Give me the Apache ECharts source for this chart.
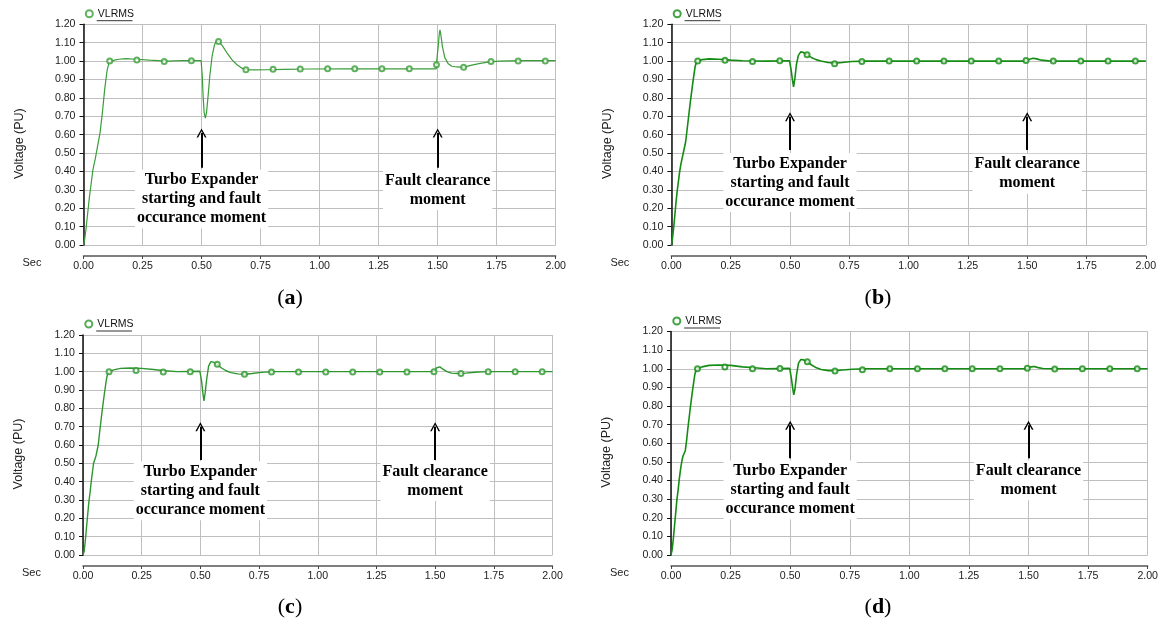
<!DOCTYPE html>
<html><head><meta charset="utf-8">
<script src="https://cdn.jsdelivr.net/npm/echarts@6/dist/echarts.min.js"></script>
<style>html,body{margin:0;padding:0;background:#fff}#c{width:1161px;height:622px}</style>
</head><body><div id="c"></div>
<script>
// ---------------- DATA ----------------
const seriesName = 'VLRMS';
const yAxisName = 'Voltage (PU)';
const xAxisName = 'Sec';
const panelLabels = ['a', 'b', 'c', 'd'];
const noteStart = 'Turbo Expander\nstarting and fault\noccurance moment';
const noteClear = 'Fault clearance\nmoment';
const eventTimes = [0.5, 1.5];

// Panel (a)
const tA = [0,0.005,0.01,0.015,0.02,0.025,0.03,0.035,0.04,0.05,0.06,0.07,0.08,0.09,0.1,0.108,0.115,0.13,0.15,0.18,0.22,0.28,0.35,0.42,0.498,
  0.5,0.503,0.507,0.511,0.516,0.521,0.527,0.535,0.545,0.555,0.565,0.575,0.59,0.61,0.63,0.65,0.67,0.69,0.72,0.78,0.85,0.95,1.1,1.3,1.494,
  1.496,1.503,1.507,1.51,1.514,1.52,1.53,1.545,1.56,1.58,1.61,1.64,1.68,1.72,1.76,1.85,2.0];
const vA = [0,0.03,0.08,0.14,0.2,0.26,0.31,0.36,0.41,0.47,0.54,0.61,0.72,0.85,0.95,0.99,1.0,1.005,1.01,1.013,1.01,1.005,1.0,1.002,1.003,
  1.0,0.92,0.8,0.72,0.69,0.72,0.8,0.92,1.03,1.09,1.11,1.105,1.08,1.04,1.005,0.98,0.962,0.953,0.952,0.953,0.955,0.957,0.958,0.958,0.958,
  1.0,1.09,1.15,1.17,1.14,1.08,1.02,0.985,0.972,0.968,0.966,0.977,0.988,0.996,1.0,1.002,1.002];

// Panel (b)
const tB = [0,0.005,0.01,0.015,0.02,0.025,0.03,0.035,0.04,0.05,0.06,0.07,0.08,0.09,0.1,0.106,0.112,0.13,0.16,0.2,0.25,0.3,0.4,0.498,
  0.5,0.505,0.51,0.515,0.52,0.527,0.535,0.545,0.555,0.57,0.59,0.61,0.63,0.66,0.69,0.72,0.76,0.82,1.0,1.494,
  1.5,1.51,1.525,1.54,1.56,1.59,1.65,2.0];
const vB = [0,0.04,0.1,0.17,0.24,0.3,0.35,0.4,0.44,0.5,0.56,0.67,0.78,0.88,0.97,0.995,1.0,1.008,1.012,1.01,1.005,1.002,1.0,1.002,
  1.0,0.95,0.9,0.86,0.9,0.98,1.03,1.05,1.048,1.035,1.02,1.008,1.0,0.992,0.988,0.992,0.998,1.0,1.0,1.0,
  1.003,1.01,1.015,1.012,1.005,1.001,1.0,1.0];

// Panel (c)
const tC = [0,0.005,0.01,0.015,0.02,0.025,0.03,0.035,0.04,0.045,0.05,0.055,0.06,0.065,0.07,0.08,0.09,0.1,0.106,0.112,0.13,0.16,0.2,0.25,0.3,0.35,0.4,0.498,
  0.5,0.505,0.51,0.515,0.52,0.527,0.535,0.545,0.555,0.57,0.59,0.61,0.63,0.66,0.69,0.72,0.76,0.82,1.0,1.498,
  1.5,1.505,1.512,1.52,1.535,1.55,1.57,1.6,1.63,1.67,1.72,2.0];
const vC = [0,0.02,0.08,0.15,0.22,0.29,0.34,0.4,0.45,0.5,0.52,0.54,0.55,0.6,0.66,0.77,0.87,0.96,0.995,1.0,1.01,1.018,1.02,1.018,1.012,1.005,1.0,1.002,
  1.0,0.95,0.89,0.84,0.88,0.96,1.03,1.055,1.052,1.04,1.02,1.005,0.995,0.988,0.986,0.99,0.996,1.0,1.0,1.0,
  1.0,1.02,1.03,1.026,1.012,1.0,0.992,0.99,0.992,0.997,1.0,1.0];

// Panel (d)
const tD = [0,0.005,0.01,0.015,0.02,0.025,0.03,0.035,0.04,0.045,0.05,0.055,0.06,0.065,0.07,0.08,0.09,0.1,0.106,0.112,0.13,0.16,0.2,0.25,0.3,0.35,0.4,0.498,
  0.5,0.505,0.51,0.515,0.52,0.527,0.535,0.545,0.555,0.57,0.59,0.61,0.63,0.66,0.69,0.72,0.76,0.82,1.0,1.498,
  1.5,1.51,1.525,1.54,1.56,1.6,2.0];
const vD = [0,0.03,0.09,0.16,0.23,0.3,0.35,0.41,0.46,0.5,0.53,0.54,0.56,0.61,0.67,0.78,0.88,0.97,0.995,1.0,1.01,1.018,1.02,1.018,1.01,1.005,1.0,1.002,
  1.0,0.95,0.9,0.86,0.89,0.97,1.03,1.05,1.048,1.038,1.02,1.005,0.996,0.99,0.99,0.993,0.997,1.0,1.0,1.0,
  1.0,1.01,1.012,1.006,1.001,1.0,1.0];

// Marker (circle) samples
const markerT = [0.111,0.226,0.342,0.457,0.572,0.688,0.803,0.918,1.034,1.149,1.264,1.380,1.495,1.610,1.726,1.841,1.956];
const markA = [1.0,1.006,0.998,1.002,1.107,0.953,0.955,0.957,0.958,0.958,0.958,0.958,0.98,0.966,0.998,1.0,1.0];
const markB = [1.0,1.005,0.998,1.002,1.035,0.986,0.998,1.0,1.0,1.0,1.0,1.0,1.003,1.0,1.0,1.0,1.0];
const markC = [1.0,1.006,0.998,1.0,1.04,0.986,0.998,0.998,0.998,0.998,0.998,0.998,1.0,0.99,1.0,1.0,1.0];
const markD = [1.0,1.01,1.0,1.002,1.038,0.988,0.995,1.0,1.0,1.0,1.0,1.0,1.003,0.998,1.0,1.0,1.0];

// Annotation anchor values (data units): arrow base, arrow tip, note centres
const arrowBase = [0.42, 0.517, 0.518, 0.52];
const arrowTip  = [0.609, 0.698, 0.70, 0.696];
const noteStartY = [0.25, 0.34, 0.351, 0.349];
const noteClearY = [0.299, 0.388, 0.403, 0.401];

// ---------------- LAYOUT ----------------
const panels = [
  {left:83.5, top:24.3, width:472.2, height:220.7, legendY:14.7, cap:[290,298], color:'#3a9d3a', lw:1.2, t:tA, v:vA, m:markA},
  {left:671.4, top:24.3, width:474.4, height:220.7, legendY:14.7, cap:[878,298], color:'#148c14', lw:1.6, t:tB, v:vB, m:markB},
  {left:83, top:335, width:469.5, height:220, legendY:325, cap:[290,607], color:'#2e962e', lw:1.4, t:tC, v:vC, m:markC},
  {left:671, top:331.5, width:476.7, height:223.5, legendY:322, cap:[878,607], color:'#148c14', lw:1.6, t:tD, v:vD, m:markD}
];

const chevron = 'path://M5,0 L10,9 L8.4,9 L5,2.6 L1.6,9 L0,9 Z';
const sans = 'Liberation Sans';
const serif = 'Liberation Serif';

const grid = [], xAxis = [], yAxis = [], series = [], legend = [], graphic = [];
panels.forEach((p, i) => {
  grid.push({left:p.left, top:p.top, width:p.width, height:p.height, containLabel:false});
  xAxis.push({
    type:'value', gridIndex:i, min:0, max:2, interval:0.25, offset:11,
    axisLine:{show:true, onZero:false, lineStyle:{color:'#555', width:1.5}},
    axisTick:{show:true, length:3, lineStyle:{color:'#444'}},
    axisLabel:{margin:5, fontSize:10.6, fontFamily:sans, color:'#222', formatter:v => v.toFixed(2)},
    splitLine:{show:true, lineStyle:{color:'#bfbfbf', width:1}}
  });
  yAxis.push({
    type:'value', gridIndex:i, min:0, max:1.2, interval:0.1,
    axisLine:{show:true, lineStyle:{color:'#111', width:1.5}},
    axisTick:{show:true, length:4, lineStyle:{color:'#111'}},
    axisLabel:{margin:8, fontSize:10.6, fontFamily:sans, color:'#222', formatter:v => v.toFixed(2)},
    splitLine:{show:true, lineStyle:{color:'#bfbfbf', width:1}}
  });
});

// marker series first (so the legend icon is a hollow circle)
panels.forEach((p, i) => {
  series.push({
    type:'scatter', name:seriesName, xAxisIndex:i, yAxisIndex:i,
    data:markerT.map((t, k) => [t, p.m[k]]),
    symbol:'emptyCircle', symbolSize:5, animation:false, z:4,
    itemStyle:{color:p.color, borderColor:p.color, borderWidth:0.9}
  });
});

panels.forEach((p, i) => {
  const noteLabel = {
    show:true, position:'inside', color:'#000', fontFamily:serif, fontWeight:'bold',
    fontSize:16, lineHeight:19, backgroundColor:'#fff', padding:[1,2]
  };
  series.push({
    type:'line', name:seriesName, xAxisIndex:i, yAxisIndex:i,
    data:p.t.map((t, k) => [t, p.v[k]]),
    showSymbol:false, symbol:'none', animation:false,
    lineStyle:{color:p.color, width:p.lw}, itemStyle:{color:p.color},
    z:3,
    markLine:{
      silent:true, animation:false, symbol:['none', chevron], symbolSize:[10,9],
      label:{show:false},
      lineStyle:{color:'#000', width:2, type:'solid'},
      data:eventTimes.map(t => [{coord:[t, arrowBase[i]]}, {coord:[t, arrowTip[i]]}])
    },
    markPoint:{
      silent:true, animation:false, symbol:'rect', symbolSize:1,
      itemStyle:{color:'rgba(0,0,0,0)'},
      data:[
        {coord:[eventTimes[0], noteStartY[i]], label:Object.assign({}, noteLabel, {formatter:noteStart})},
        {coord:[eventTimes[1], noteClearY[i]], label:Object.assign({}, noteLabel, {formatter:noteClear})}
      ]
    }
  });
  legend.push({
    left:p.left + 1.3, top:p.legendY - 6.5, padding:0, selectedMode:false,
    icon:'emptyCircle', itemWidth:7, itemHeight:7,
    itemStyle:{color:p.color, borderColor:p.color, borderWidth:1},
    data:[seriesName],
    textStyle:{fontSize:10.5, fontFamily:sans, color:'#111'}
  });
  graphic.push({type:'line', silent:true, shape:{x1:p.left + 13.2, y1:p.legendY + 6, x2:p.left + 49, y2:p.legendY + 6},
    style:{stroke:'#333', lineWidth:1}});
  graphic.push({type:'text', silent:true, x:p.left - 64, y:p.top + p.height / 2 + 9, rotation:Math.PI / 2,
    style:{text:yAxisName, fontSize:12.5, fontFamily:sans, fill:'#222', align:'center', verticalAlign:'middle'}});
  graphic.push({type:'text', silent:true, x:p.left - 61, y:p.top + p.height + 18,
    style:{text:xAxisName, fontSize:11, fontFamily:sans, fill:'#222', align:'left', verticalAlign:'middle'}});
  graphic.push({type:'text', silent:true, x:p.cap[0], y:p.cap[1],
    style:{text:'{p|(}{b|' + panelLabels[i] + '}{p|)}', align:'center', verticalAlign:'middle',
      rich:{p:{fontSize:22, fontFamily:serif, fill:'#000', color:'#000'},
            b:{fontSize:22, fontFamily:serif, fontWeight:'bold', fill:'#000', color:'#000'}}}});
});

const chart = echarts.init(document.getElementById('c'), null, {renderer:'canvas'});
chart.setOption({
  backgroundColor:'#fff', animation:false,
  grid, xAxis, yAxis, series, legend, graphic
});
</script></body></html>
